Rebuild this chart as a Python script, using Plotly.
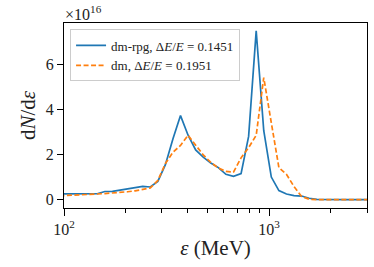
import plotly.graph_objects as go

# Energy grid (MeV)
energy = [95.0, 103.4, 112.6, 122.6, 133.4, 145.3, 158.2, 172.2, 187.5, 204.1,
          222.2, 241.9, 263.4, 286.7, 312.1, 339.8, 369.8, 402.6, 438.3, 477.2,
          519.5, 565.5, 615.7, 670.3, 729.8, 794.3, 864.8, 941.5, 1024.9, 1115.9,
          1214.8, 1322.6, 1439.8, 1567.5, 1706.5, 1857.9, 2022.6, 2201.9, 2397.3,
          2609.8, 2841.3, 3093.2]

# dN/de in units of 1e16
dm_rpg = [0.25, 0.25, 0.26, 0.27, 0.26, 0.26, 0.36, 0.37, 0.42, 0.47,
          0.52, 0.59, 0.56, 0.81, 1.55, 2.70, 3.72, 2.85, 2.20, 1.88,
          1.62, 1.42, 1.12, 1.03, 1.15, 2.80, 7.47, 3.05, 1.00, 0.40,
          0.25, 0.18, 0.16, 0.06, 0.01, 0.00, 0.00, 0.00, 0.00,
          0.00, 0.00, 0.00]

dm = [0.17, 0.18, 0.19, 0.20, 0.22, 0.25, 0.27, 0.29, 0.32, 0.35,
      0.39, 0.44, 0.52, 0.85, 1.60, 2.10, 2.40, 2.85, 2.42, 1.98,
      1.65, 1.40, 1.25, 1.22, 1.85, 2.30, 2.85, 5.40, 3.40, 1.42,
      1.12, 0.58, 0.14, 0.02, 0.00, 0.00, 0.00, 0.00, 0.00,
      0.00, 0.00, 0.00]

label_rpg = "dm-rpg, Δ<i>E</i>/<i>E</i> = 0.1451"
label_dm = "dm, Δ<i>E</i>/<i>E</i> = 0.1951"

y_ticks = [0, 2, 4, 6]
x_major = [100, 1000]
x_major_text = ["10<sup>2</sup>", "10<sup>3</sup>"]
x_minor = [200, 300, 400, 500, 600, 700, 800, 900, 2000, 3000]

FONT = "Liberation Serif"

fig = go.Figure()
fig.add_trace(go.Scatter(x=energy, y=dm_rpg, mode="lines", name=label_rpg,
                         line=dict(color="#1f77b4", width=1.7)))
fig.add_trace(go.Scatter(x=energy, y=dm, mode="lines", name=label_dm,
                         line=dict(color="#ff7f0e", width=1.7, dash="5px,2.5px")))

fig.update_layout(
    width=374, height=267,
    margin=dict(l=64, r=7, t=23, b=59),
    paper_bgcolor="white", plot_bgcolor="white",
    font=dict(family=FONT, color="#222222", size=16),
    showlegend=True,
    legend=dict(x=0.02, y=0.965, xanchor="left", yanchor="top",
                bgcolor="rgba(255,255,255,0.85)", bordercolor="#cccccc",
                borderwidth=1, font=dict(size=13, family=FONT),
                tracegroupgap=0, itemwidth=30),
    xaxis=dict(type="log", range=[2, 3.4771], automargin=False,
               tickmode="array", tickvals=x_major, ticktext=x_major_text,
               ticks="outside", ticklen=7, tickwidth=1, tickcolor="black",
               minor=dict(tickmode="array", tickvals=x_minor, ticks="outside",
                          ticklen=4, tickwidth=0.8, tickcolor="black"),
               showline=True, linecolor="black", linewidth=1, mirror=True,
               showgrid=False, zeroline=False,
               tickfont=dict(size=16, family=FONT),
               title=dict(text="<i>ε</i> (MeV)", font=dict(size=21, family=FONT),
                          standoff=3)),
    yaxis=dict(range=[-0.37, 7.82], automargin=False,
               tickmode="array", tickvals=y_ticks,
               ticks="outside", ticklen=6, tickwidth=1, tickcolor="black",
               showline=True, linecolor="black", linewidth=1, mirror=True,
               showgrid=False, zeroline=False,
               tickfont=dict(size=16, family=FONT),
               title=dict(text="d<i>N</i>/d<i>ε</i>", font=dict(size=21, family=FONT),
                          standoff=4)),
)

fig.add_annotation(text="×10<sup>16</sup>", xref="paper", yref="paper",
                   x=0.0, y=1.0, xanchor="left", yanchor="bottom",
                   showarrow=False, font=dict(size=16, family=FONT),
                   xshift=-1, yshift=-2)

fig.write_html("out.html",
               config={"displayModeBar": False},
               post_script="document.body.style.margin='0px';document.body.style.padding='0px';")
